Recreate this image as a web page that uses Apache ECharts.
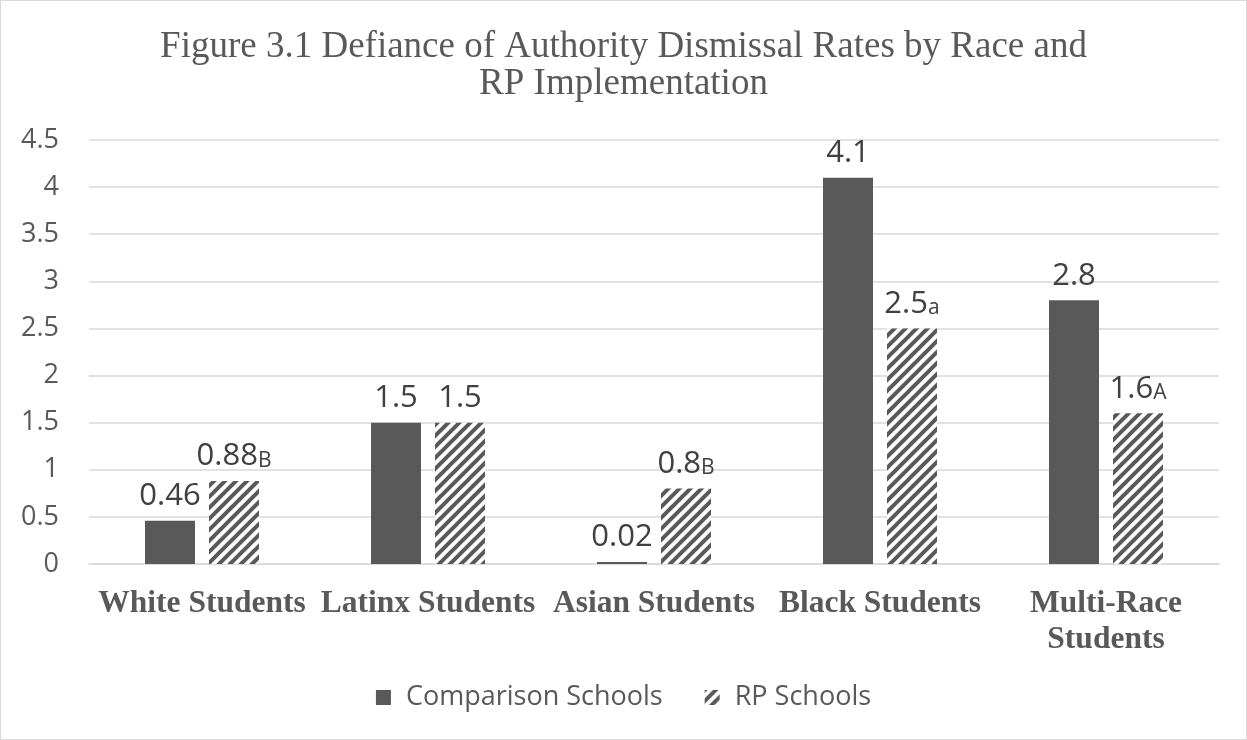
<!DOCTYPE html>
<html>
<head>
<meta charset="utf-8">
<title>Defiance of Authority Dismissal Rates</title>
<script src="https://cdn.jsdelivr.net/npm/echarts@6/dist/echarts.min.js"></script>
<style>
  html, body { margin: 0; padding: 0; background: #fff; }
  #wrap { position: absolute; left: 0; top: 0; width: 1245px; height: 738px; border: 1px solid #d9d9d9; }
  #chart { width: 1245px; height: 738px; }
</style>
</head>
<body>
<div id="wrap"><div id="chart"></div></div>
<script>
// Dismissal rates per category
const categories = ['White Students', 'Latinx Students', 'Asian Students', 'Black Students', 'Multi-Race\nStudents'];
const comparisonValues = [0.46, 1.5, 0.02, 4.1, 2.8];
const rpValues = [0.88, 1.5, 0.8, 2.5, 1.6];
// significance markers shown after the RP values
const rpMarkers = ['B', '', 'B', 'a', 'A'];
const yTicks = ['0', '0.5', '1', '1.5', '2', '2.5', '3', '3.5', '4', '4.5'];

const DARK = '#595959';

// diagonal stripe fill for the RP series
function makeHatch() {
  const s = 11;
  const c = document.createElement('canvas');
  c.width = s; c.height = s;
  const g = c.getContext('2d');
  g.fillStyle = '#ffffff';
  g.fillRect(0, 0, s, s);
  g.strokeStyle = DARK;
  g.lineWidth = 4;
  g.lineCap = 'square';
  for (let k = -1; k <= 1; k++) {
    g.beginPath();
    g.moveTo(k * s - 1, s + 1);
    g.lineTo(k * s + s + 1, -1);
    g.stroke();
  }
  return c;
}
const hatch = { image: makeHatch(), repeat: 'repeat' };

const chart = echarts.init(document.getElementById('chart'), null, { renderer: 'canvas' });

const labelRich = {
  v: { fontFamily: 'Open Sans', fontSize: 31, color: '#404040' },
  m: { fontFamily: 'Open Sans', fontSize: 21, color: '#404040', padding: [8, 0, 0, 0] }
};

chart.setOption({
  animation: false,
  backgroundColor: '#ffffff',
  title: {
    text: 'Figure 3.1 Defiance of Authority Dismissal Rates by Race and\nRP Implementation',
    left: 'center',
    top: 23,
    textStyle: {
      fontFamily: 'Liberation Serif',
      fontWeight: 'normal',
      fontSize: 37,
      lineHeight: 37,
      color: DARK
    }
  },
  legend: {
    bottom: 23,
    left: 'center',
    itemWidth: 15,
    itemHeight: 15,
    itemGap: 42,
    icon: 'rect',
    textStyle: { fontFamily: 'Open Sans', fontSize: 27, color: DARK, padding: [0, 0, 0, 10] },
    data: ['Comparison Schools', 'RP Schools']
  },
  grid: { left: 88, right: 27, top: 139, bottom: 175, containLabel: false },
  xAxis: {
    type: 'category',
    data: categories,
    axisLine: { lineStyle: { color: '#d9d9d9', width: 1.5 } },
    axisTick: { show: false },
    axisLabel: {
      interval: 0,
      margin: 22,
      fontFamily: 'Liberation Serif',
      fontWeight: 'bold',
      fontSize: 31.5,
      lineHeight: 36,
      color: DARK
    }
  },
  yAxis: {
    type: 'value',
    min: 0,
    max: 4.5,
    interval: 0.5,
    axisLine: { show: false },
    axisTick: { show: false },
    splitLine: { lineStyle: { color: '#d9d9d9', width: 1.5 } },
    axisLabel: {
      margin: 30,
      fontFamily: 'Open Sans',
      fontSize: 27,
      color: DARK,
      formatter: (v) => {
        const i = Math.round(v / 0.5);
        return yTicks[i] !== undefined ? yTicks[i] : String(v);
      }
    }
  },
  series: [
    {
      name: 'Comparison Schools',
      type: 'bar',
      data: comparisonValues,
      barWidth: 50,
      barGap: '28%',
      itemStyle: { color: DARK },
      label: {
        show: true,
        position: 'top',
        distance: 9,
        formatter: (p) => '{v|' + p.value + '}',
        rich: labelRich
      }
    },
    {
      name: 'RP Schools',
      type: 'bar',
      data: rpValues,
      barWidth: 50,
      itemStyle: { color: hatch },
      label: {
        show: true,
        position: 'top',
        distance: 9,
        formatter: (p) => '{v|' + p.value + '}' + (rpMarkers[p.dataIndex] ? '{m|' + rpMarkers[p.dataIndex] + '}' : ''),
        rich: labelRich
      }
    }
  ]
});
</script>
</body>
</html>
